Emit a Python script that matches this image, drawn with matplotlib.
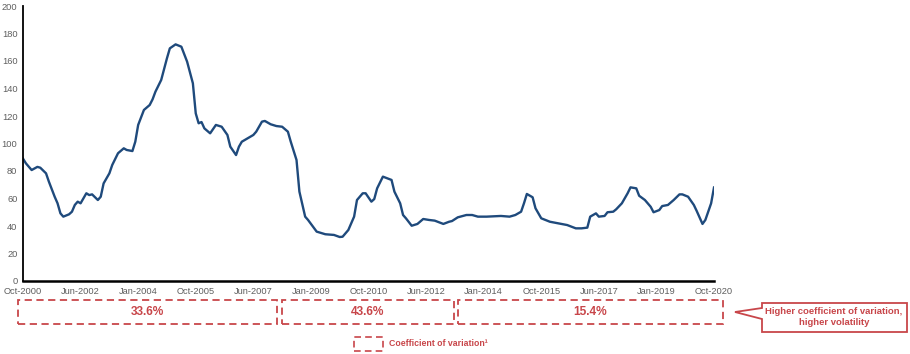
import matplotlib
matplotlib.use("Agg")
import matplotlib.pyplot as plt
from matplotlib.patches import Rectangle, Polygon

plt.rcParams['font.family'] = ['Liberation Sans', 'DejaVu Sans']

# months elapsed since Oct-2000 and the index value read at that month
months = [0, 1, 3, 5, 6, 8, 9, 11, 12, 13, 14, 16, 17, 18, 19, 20, 22, 23, 24, 26,
          27, 28, 30, 31, 33, 35, 36, 38, 39, 40, 42, 44, 45, 46, 48, 50, 51, 53, 55, 57,
          59, 60, 61, 62, 63, 65, 67, 69, 71, 72, 74, 75, 76, 80, 81, 83, 84, 86, 88, 90,
          92, 93, 95, 96, 98, 99, 102, 105, 108, 110, 111, 113, 115, 116, 118, 119, 121, 122, 123, 125,
          128, 129, 131, 132, 133, 135, 137, 139, 141, 143, 146, 148, 149, 151, 154, 156, 158, 161, 166, 169,
          171, 173, 174, 175, 177, 178, 180, 183, 187, 189, 192, 194, 196, 197, 199, 200, 202, 203, 205, 206,
          208, 210, 211, 213, 214, 216, 218, 219, 221, 222, 224, 226, 228, 229, 231, 233, 234, 236, 237, 239,
          240]
values = [89, 85.6, 80.7, 83, 82.4, 78.3, 72.2, 61.3, 56.5, 49.2, 46.8, 48.5, 50.4, 55.3, 57.7, 56.5, 63.8, 62.5, 63, 58.9,
          61.3, 71, 78.3, 84.4, 92.9, 96.5, 95.3, 94.5, 101.3, 113.5, 124.4, 128, 132.1, 137.7, 146.2, 162, 169.2, 172.1, 170.4, 159.5,
          143.8, 121.9, 114.7, 115.6, 111, 107.4, 113.5, 112.2, 106.2, 97.7, 91.6, 97.7, 101.3, 106.2, 108.6, 115.9, 116.4, 114, 112.7, 112.2,
          108.6, 101.3, 88, 65, 46.8, 44.4, 35.9, 34, 33.5, 32, 32.2, 37.1, 46.8, 58.9, 63.8, 63.8, 57.7, 59.6, 67.4, 75.9,
          73.5, 65, 56.5, 48, 45.6, 40.2, 41.5, 45.1, 44.4, 43.9, 41.5, 43.1, 43.6, 46.3, 48, 48, 46.8, 46.8, 47.3, 46.8,
          48, 50.4, 56.5, 63.3, 60.9, 52.9, 45.6, 43.1, 41.5, 40.7, 38.3, 38.3, 38.8, 46.8, 49.2, 46.8, 47.3, 50, 50.4, 52.1,
          56.5, 63.8, 68.1, 67.4, 62, 58.9, 54, 50, 51.6, 54.5, 55.3, 58.9, 63, 63, 61.3, 55.3, 50.9, 41.5, 44.4, 56.5,
          68]

tick_labels = ["Oct-2000", "Jun-2002", "Jan-2004", "Oct-2005", "Jun-2007", "Jan-2009", "Oct-2010",
               "Jun-2012", "Jan-2014", "Oct-2015", "Jun-2017", "Jan-2019", "Oct-2020"]

period_cv = ["33.6%", "43.6%", "15.4%"]

red = "#c8464a"
grey = "#5f5f5f"
W, H = 910, 354

fig = plt.figure(figsize=(9.1, 3.54), dpi=100)
ax = fig.add_axes([23 / W, 1 - 281 / H, (714 - 23) / W, (281 - 6) / H])

ax.plot(months, values, color="#1f4a7c", lw=1.7, solid_joinstyle="round")

ax.set_xlim(0, 240)
ax.set_ylim(0, 200)
ax.set_yticks(range(0, 201, 20))
ax.set_xticks(range(0, 241, 20))
ax.set_xticklabels(tick_labels)
ax.tick_params(axis="both", length=0, labelsize=6.7, labelcolor=grey)
ax.tick_params(axis="x", pad=4)
ax.tick_params(axis="y", pad=4)

for s in ["top", "right"]:
    ax.spines[s].set_visible(False)
ax.spines["left"].set_linewidth(1.3)
ax.spines["bottom"].set_linewidth(1.8)


def px(x, y):
    return x / W, 1 - y / H


# dashed period boxes with coefficient of variation
boxes = [(18, 277), (282, 454), (458, 723)]
for (x0, x1), label in zip(boxes, period_cv):
    fx, fy = px(x0, 324)
    fx1, fy1 = px(x1, 300)
    fig.add_artist(Rectangle((fx, fy), fx1 - fx, fy1 - fy, transform=fig.transFigure,
                             fill=False, edgecolor=red, lw=1.3, linestyle=(0, (4, 2.5))))
    tx, ty = px((x0 + x1) / 2, 312)
    fig.text(tx, ty, label, color=red, fontsize=8.6, fontweight="bold", ha="center", va="center")

# callout
pts = [(762, 303), (907, 303), (907, 332), (762, 332), (762, 319), (735, 312), (762, 308)]
fig.add_artist(Polygon([px(x, y) for x, y in pts], closed=True, transform=fig.transFigure,
                       facecolor="white", edgecolor=red, lw=1.3))
tx, ty = px(834, 317)
fig.text(tx, ty, "Higher coefficient of variation,\nhigher volatility", color=red, fontsize=6.8,
         fontweight="bold", ha="center", va="center", linespacing=1.3)

# legend
lx, ly = px(354, 351)
lx1, ly1 = px(383, 337)
fig.add_artist(Rectangle((lx, ly), lx1 - lx, ly1 - ly, transform=fig.transFigure,
                         fill=False, edgecolor=red, lw=1.2, linestyle=(0, (4, 2.5))))
tx, ty = px(389, 344)
fig.text(tx, ty, "Coefficient of variation\u00b9", color=red, fontsize=6.3, fontweight="bold",
         ha="left", va="center")

fig.savefig("out.png", dpi=100)
